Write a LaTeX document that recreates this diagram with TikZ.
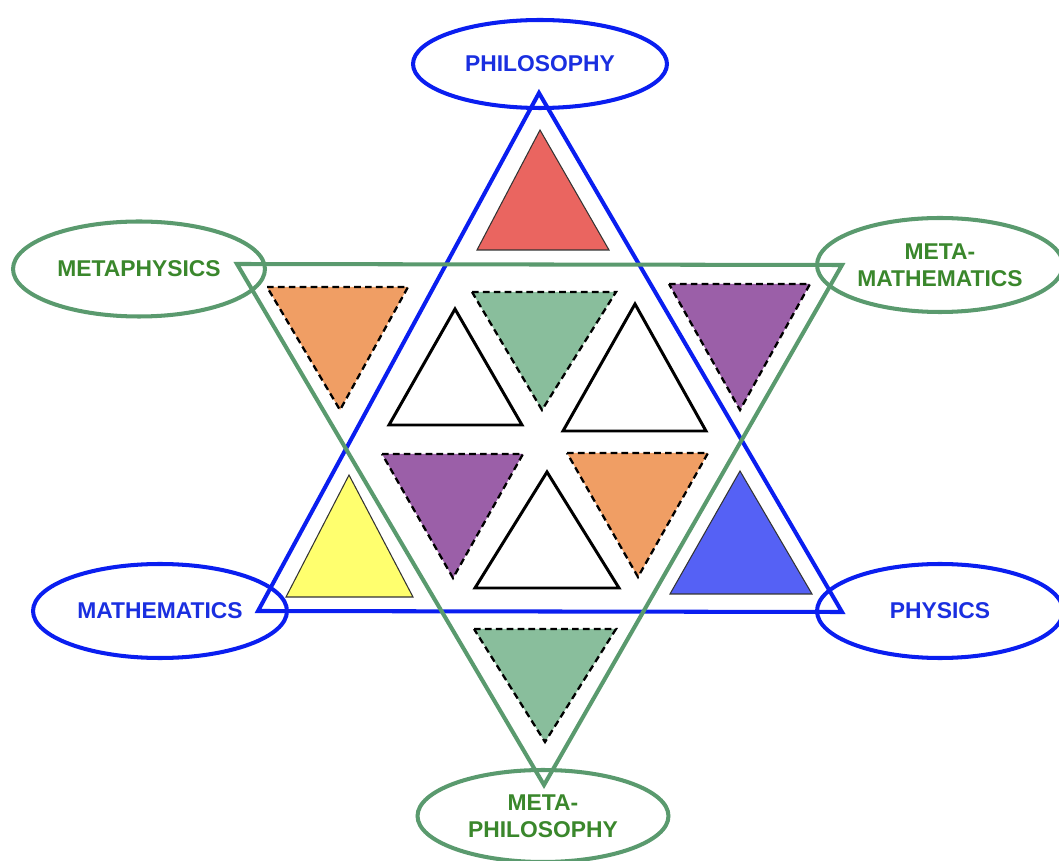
\documentclass[tikz,border=0pt]{standalone}
\usepackage{fontspec}
\setmainfont{Liberation Sans}
\usetikzlibrary{shapes.geometric}

\definecolor{lineblue}{HTML}{0A1EF0}
\definecolor{linegreen}{HTML}{5A9A6E}
\definecolor{textblue}{HTML}{1A2FE0}
\definecolor{textgreen}{HTML}{3A872C}
\definecolor{redfill}{HTML}{EA6560}
\definecolor{orangefill}{HTML}{F09E64}
\definecolor{greenfill}{HTML}{89BE9C}
\definecolor{purplefill}{HTML}{9B5FA8}
\definecolor{yellowfill}{HTML}{FFFF6E}
\definecolor{bluefill}{HTML}{5561F5}

\begin{document}
\begin{tikzpicture}[x=0.02cm, y=-0.02cm,
    bigtri/.style={line width=2.3pt, line join=miter},
    solidtri/.style={draw=black!80, line width=0.6pt},
    dashtri/.style={draw=black, line width=1.3pt, dash pattern=on 3.8pt off 2.4pt},
    whitetri/.style={draw=black, line width=1.7pt, fill=white},
    topic/.style={ellipse, draw, line width=2.3pt, inner sep=0pt, align=center,
        font=\bfseries\fontsize{13}{15.3}\selectfont}]
        % Page
        \useasboundingbox (0,0) rectangle (1059,861);

        % Corners of the two big triangles
        \coordinate (btop) at (539,93);
        \coordinate (bleft) at (258,611);
        \coordinate (bright) at (842,612);
        \coordinate (gleft) at (237,264);
        \coordinate (gright) at (842,265);
        \coordinate (gbottom) at (544,785);

        % Small triangles
        \filldraw[solidtri, fill=redfill] (540,130) -- (477,250) -- (609,250) -- cycle;
        \filldraw[solidtri, fill=yellowfill] (349,475) -- (286,597) -- (413,597) -- cycle;
        \filldraw[solidtri, fill=bluefill] (740,471) -- (670,594) -- (812,594) -- cycle;
        \filldraw[dashtri, fill=orangefill] (267,287) -- (408,287) -- (340,410) -- cycle;
        \filldraw[dashtri, fill=greenfill] (472,292) -- (616,292) -- (542,410) -- cycle;
        \filldraw[dashtri, fill=purplefill] (669,284) -- (810,284) -- (740,410) -- cycle;
        \filldraw[dashtri, fill=purplefill] (382,454) -- (523,454) -- (453,578) -- cycle;
        \filldraw[dashtri, fill=orangefill] (567,453) -- (708,453) -- (638,577) -- cycle;
        \filldraw[dashtri, fill=greenfill] (474,629) -- (616,629) -- (545,742) -- cycle;
        \draw[whitetri] (455,309) -- (389,425) -- (522,425) -- cycle;
        \draw[whitetri] (635,304) -- (563,431) -- (706,431) -- cycle;
        \draw[whitetri] (547,472) -- (475,588) -- (619,588) -- cycle;

        % Big triangles
        \draw[bigtri, lineblue] (btop) -- (bleft) -- (bright) -- cycle;
        \draw[bigtri, linegreen] (gleft) -- (gright) -- (gbottom) -- cycle;

        % Topics
        \node[topic, draw=lineblue, text=textblue, minimum width=5.08cm,
            minimum height=1.76cm] (philosophy) at (540,64) {PHILOSOPHY};
        \node[topic, draw=linegreen, text=textgreen, minimum width=5.04cm,
            minimum height=1.9cm] (metaphysics) at (139,269) {METAPHYSICS};
        \node[topic, draw=linegreen, text=textgreen, minimum width=4.92cm,
            minimum height=1.88cm] (metamath) at (940,265) {META-\\MATHEMATICS};
        \node[topic, draw=lineblue, text=textblue, minimum width=5.08cm,
            minimum height=1.88cm] (mathematics) at (160,611) {MATHEMATICS};
        \node[topic, draw=lineblue, text=textblue, minimum width=4.92cm,
            minimum height=1.88cm] (physics) at (940,611) {PHYSICS};
        \node[topic, draw=linegreen, text=textgreen, minimum width=5.02cm,
            minimum height=1.84cm] (metaphil) at (543,816) {META-\\PHILOSOPHY};
\end{tikzpicture}
\end{document}
